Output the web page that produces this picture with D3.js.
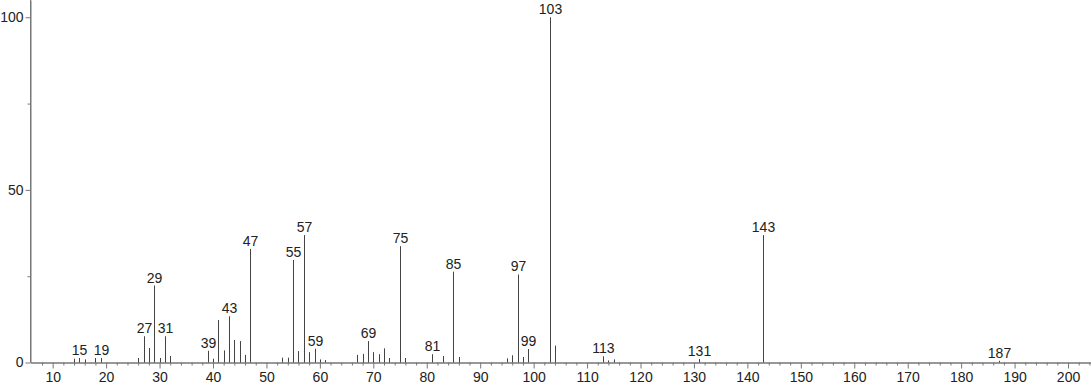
<!DOCTYPE html>
<html>
<head>
<meta charset="utf-8">
<script src="https://cdn.jsdelivr.net/npm/d3@7"></script>
<style>
  body { margin: 0; background: #fff; }
  svg text { font-family: "Liberation Sans", Arial, Helvetica, sans-serif; }
</style>
</head>
<body>
<svg id="chart" width="1091" height="387"></svg>
<script>
// m/z values and relative intensities
let mzValues = [14, 15, 16, 18, 19, 26, 27, 28, 29, 30, 31, 32, 39, 40, 41, 42, 43, 44, 45, 46, 47,
  53, 54, 55, 56, 57, 58, 59, 60, 61, 67, 68, 69, 70, 71, 72, 73, 75, 76, 81, 83, 85, 86,
  95, 96, 97, 98, 99, 103, 104, 113, 114, 115, 131, 143, 187];
let intensities = [1.1, 1.3, 0.9, 1.3, 1.3, 1.3, 7.6, 4.2, 22.3, 1.3, 7.6, 1.9, 3.4, 1.1, 12.3, 3.5, 13.4, 6.5, 6.2, 2.2, 32.9,
  1.4, 1.4, 29.7, 3.3, 36.9, 3.0, 4.0, 0.9, 0.7, 2.2, 2.5, 6.2, 3.0, 2.4, 4.1, 1.3, 33.7, 1.3, 2.4, 1.9, 26.3, 1.6,
  1.2, 2.1, 25.5, 1.6, 3.9, 100, 4.9, 1.8, 0.6, 0.9, 1.0, 36.9, 0.5];
let labelledPeaks = [15, 19, 27, 29, 31, 39, 43, 47, 55, 57, 59, 69, 75, 81, 85, 97, 99, 103, 113, 131, 143, 187];

let xMajorTicks = d3.range(10, 201, 10);
let xMinorTicks = d3.range(8, 205, 2).filter(d => d % 10 !== 0);
let yMajorTicks = [0, 50, 100];
let yMinorTicks = [25, 75];

let svg = d3.select("#chart");

let xScale = d3.scaleLinear()
  .domain([5.85, 204.3])
  .range([30.5, 1091]);

let yScale = d3.scaleLinear()
  .domain([0, 105])
  .range([362.5, 0]);

let axisColor = "#777";

// minor x ticks
let xMinor = svg.append("g")
  .attr("transform", "translate(0, 362.5)")
  .call(d3.axisBottom(xScale).tickValues(xMinorTicks).tickSize(3).tickSizeOuter(0).tickFormat(""));

// major x ticks
let xAxis = svg.append("g")
  .attr("transform", "translate(0, 362.5)")
  .call(d3.axisBottom(xScale).tickValues(xMajorTicks).tickSize(6).tickSizeOuter(0).tickPadding(4));

// y axis
let yMinor = svg.append("g")
  .attr("transform", "translate(30.5, 0)")
  .call(d3.axisLeft(yScale).tickValues(yMinorTicks).tickSize(3).tickSizeOuter(0).tickFormat(""));

let yAxis = svg.append("g")
  .attr("transform", "translate(30.5, 0)")
  .call(d3.axisLeft(yScale).tickValues(yMajorTicks).tickSize(5).tickSizeOuter(0).tickPadding(2));

[xMinor, xAxis, yMinor, yAxis].forEach(g => {
  g.select(".domain").attr("stroke", axisColor);
  g.selectAll(".tick line").attr("stroke", axisColor);
  g.selectAll(".tick text")
    .attr("fill", "#222")
    .style("font-size", "14px")
    .style("font-family", "'Liberation Sans', Arial, sans-serif");
});

// y axis line runs to the top edge
yAxis.select(".domain").attr("d", "M0," + yScale(0) + "V0");

let peaks = mzValues.map((m, i) => ({ mz: m, value: intensities[i] }));

// sticks
svg.append("g")
  .selectAll("line")
  .data(peaks)
  .enter()
  .append("line")
    .attr("x1", d => Math.round(xScale(d.mz)) + 0.5)
    .attr("x2", d => Math.round(xScale(d.mz)) + 0.5)
    .attr("y1", yScale(0))
    .attr("y2", d => yScale(d.value))
    .attr("stroke", "#444")
    .attr("stroke-width", 1);

// peak labels
svg.append("g")
  .selectAll("text")
  .data(peaks.filter(d => labelledPeaks.includes(d.mz)))
  .enter()
  .append("text")
    .attr("x", d => Math.round(xScale(d.mz)) + 0.5)
    .attr("y", d => yScale(d.value) - 3)
    .attr("text-anchor", "middle")
    .attr("fill", "#222")
    .style("font-size", "14px")
    .text(d => d.mz);
</script>
</body>
</html>
